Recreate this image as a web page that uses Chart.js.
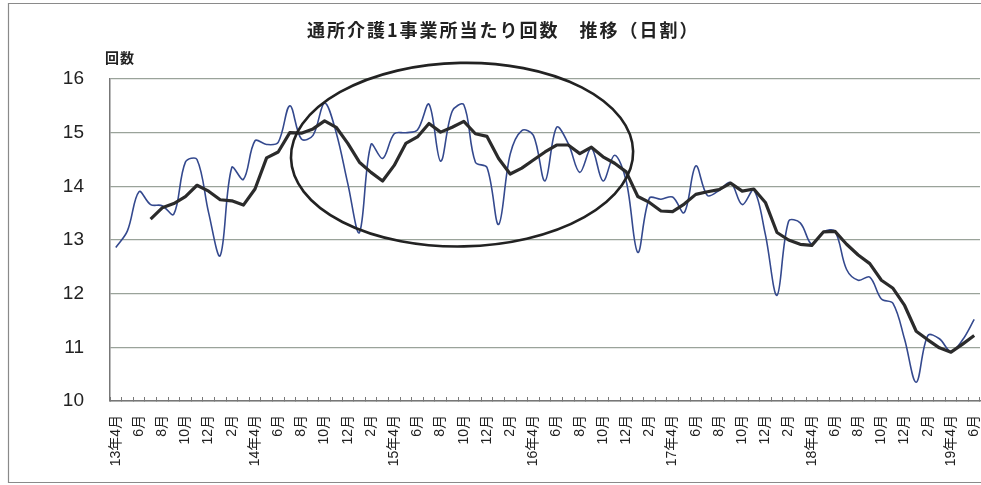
<!DOCTYPE html>
<html lang="ja">
<head>
<meta charset="utf-8">
<title>通所介護1事業所当たり回数 推移（日割）</title>
<script src="https://cdn.jsdelivr.net/npm/chart.js@4.4.1/dist/chart.umd.min.js"></script>
<style>
  html, body { margin: 0; padding: 0; background: #fff; }
</style>
</head>
<body>
<canvas id="kaisuChart" width="981" height="485"></canvas>
<script>
// months, 13年4月 .. 19年6月
const months = [
  '13年4月', '5月', '6月', '7月', '8月', '9月', '10月', '11月', '12月', '1月', '2月', '3月',
  '14年4月', '5月', '6月', '7月', '8月', '9月', '10月', '11月', '12月', '1月', '2月', '3月',
  '15年4月', '5月', '6月', '7月', '8月', '9月', '10月', '11月', '12月', '1月', '2月', '3月',
  '16年4月', '5月', '6月', '7月', '8月', '9月', '10月', '11月', '12月', '1月', '2月', '3月',
  '17年4月', '5月', '6月', '7月', '8月', '9月', '10月', '11月', '12月', '1月', '2月', '3月',
  '18年4月', '5月', '6月', '7月', '8月', '9月', '10月', '11月', '12月', '1月', '2月', '3月',
  '19年4月', '5月', '6月'
];

// monthly value (thin blue line)
const monthly = [
  12.86, 13.17, 13.90, 13.66, 13.64, 13.48, 14.45, 14.50, 13.51, 12.71, 14.35, 14.13,
  14.85, 14.78, 14.82, 15.50, 14.88, 14.95, 15.55, 15.00, 14.05, 13.14, 14.78, 14.52,
  14.98, 15.00, 15.05, 15.53, 14.47, 15.40, 15.52, 14.45, 14.35, 13.29, 14.60, 15.04,
  14.95, 14.10, 15.10, 14.80, 14.26, 14.71, 14.10, 14.58, 14.10, 12.77, 13.78, 13.76,
  13.80, 13.51, 14.38, 13.83, 13.92, 14.07, 13.66, 13.93, 13.10, 11.97, 13.35, 13.32,
  12.92, 13.15, 13.16, 12.45, 12.25, 12.31, 11.90, 11.82, 11.15, 10.35, 11.22, 11.16,
  10.92, 11.14, 11.52
];

// averaged trend (thick black line)
const trend = [
  null, null, null, 13.39, 13.60, 13.68, 13.81, 14.02, 13.91, 13.75, 13.73, 13.65,
  13.95, 14.53, 14.64, 15.00, 14.99, 15.07, 15.22, 15.10, 14.80, 14.45, 14.26, 14.10,
  14.39, 14.80, 14.92, 15.17, 15.01, 15.10, 15.21, 14.98, 14.93, 14.52, 14.23, 14.34,
  14.49, 14.64, 14.77, 14.77, 14.61, 14.73, 14.55, 14.43, 14.27, 13.81, 13.70, 13.54,
  13.53, 13.67, 13.85, 13.90, 13.94, 14.06, 13.91, 13.95, 13.70, 13.14, 13.00, 12.92,
  12.90, 13.15, 13.16, 12.92, 12.72, 12.56, 12.25, 12.10, 11.78, 11.30, 11.14, 10.99,
  10.91, 11.06, 11.22
];

const yTicks = [10, 11, 12, 13, 14, 15, 16];

// hand-drawn ring around 14年7月..16年12月 (month index / value)
const ring = { from: 15.1, to: 44.6, low: 12.88, high: 16.3 };

const titleText = '通所介護1事業所当たり回数　推移（日割）';
const unitText = '回数';

const decor = {
  id: 'decor',
  beforeDraw(chart) {
    const ctx = chart.ctx;
    ctx.save();
    ctx.fillStyle = '#fff';
    ctx.fillRect(0, 0, chart.width, chart.height);
    // frame of the sheet
    ctx.strokeStyle = '#8a8a8a';
    ctx.lineWidth = 1.2;
    ctx.beginPath();
    ctx.moveTo(chart.width, 3.5);
    ctx.lineTo(8.5, 3.5);
    ctx.lineTo(8.5, 482.5);
    ctx.lineTo(chart.width, 482.5);
    ctx.stroke();
    ctx.restore();
  },
  afterDatasetsDraw(chart) {
    const ctx = chart.ctx;
    const x = chart.scales.x, y = chart.scales.y;
    const x1 = x.getPixelForValue(ring.from), x2 = x.getPixelForValue(ring.to);
    const y1 = y.getPixelForValue(ring.high), y2 = y.getPixelForValue(ring.low);
    ctx.save();
    ctx.strokeStyle = '#222';
    ctx.lineWidth = 2.6;
    ctx.beginPath();
    ctx.ellipse((x1 + x2) / 2, (y1 + y2) / 2, (x2 - x1) / 2, (y2 - y1) / 2, -0.02, 0, Math.PI * 2);
    ctx.stroke();
    ctx.restore();
  },
  afterDraw(chart) {
    const ctx = chart.ctx;
    ctx.save();
    ctx.fillStyle = '#222';
    ctx.textBaseline = 'middle';
    ctx.textAlign = 'left';
    ctx.font = 'bold 18px "Noto Sans CJK JP"';
    ctx.letterSpacing = '2px';
    ctx.fillText(titleText, 307, 30);
    ctx.font = 'bold 14px "Noto Sans CJK JP"';
    ctx.letterSpacing = '1px';
    ctx.fillText(unitText, 105, 58);
    ctx.restore();
  }
};

const data = {
  labels: months,
  datasets: [
    {
      label: '回数',
      data: monthly,
      borderColor: '#34498e',
      borderWidth: 1.6,
      pointRadius: 0,
      tension: 0.35,
      order: 1
    },
    {
      label: '平均',
      data: trend,
      borderColor: '#2b2b2b',
      borderWidth: 3.2,
      borderJoinStyle: 'round',
      pointRadius: 0,
      tension: 0,
      order: 0
    }
  ]
};

const config = {
  type: 'line',
  data: data,
  options: {
    responsive: false,
    animation: false,
    layout: { padding: { left: 10, right: 1, top: 79, bottom: 0 } },
    plugins: {
      legend: { display: false },
      title: { display: false },
      tooltip: { enabled: false }
    },
    scales: {
      x: {
        offset: true,
        grid: {
          offset: true,
          drawOnChartArea: false,
          drawTicks: true,
          tickLength: -4,
          color: '#777',
          lineWidth: 1
        },
        border: { display: true, color: '#777', width: 1.5 },
        ticks: {
          autoSkip: false,
          minRotation: 90,
          maxRotation: 90,
          padding: 18,
          color: '#222',
          font: { family: '"Liberation Sans", "Noto Sans CJK JP"', size: 14 },
          callback: function (value, index) {
            return index % 2 === 0 ? this.getLabelForValue(value) : '';
          }
        },
        afterFit: (scale) => {
          scale.height = 84;
          scale.paddingLeft = 0;
          scale.paddingRight = 0;
        }
      },
      y: {
        min: yTicks[0],
        max: yTicks[yTicks.length - 1],
        afterBuildTicks: (scale) => { scale.ticks = yTicks.map(v => ({ value: v })); },
        ticks: {
          padding: 26,
          color: '#222',
          font: { family: '"Liberation Sans"', size: 19 }
        },
        grid: { color: '#9aa39a', lineWidth: 1.3, drawTicks: false },
        border: { display: true, color: '#777', width: 1.5 },
        afterFit: (scale) => { scale.width = 100; }
      }
    }
  },
  plugins: [decor]
};

const kaisuChart = new Chart(document.getElementById('kaisuChart'), config);
</script>
</body>
</html>
